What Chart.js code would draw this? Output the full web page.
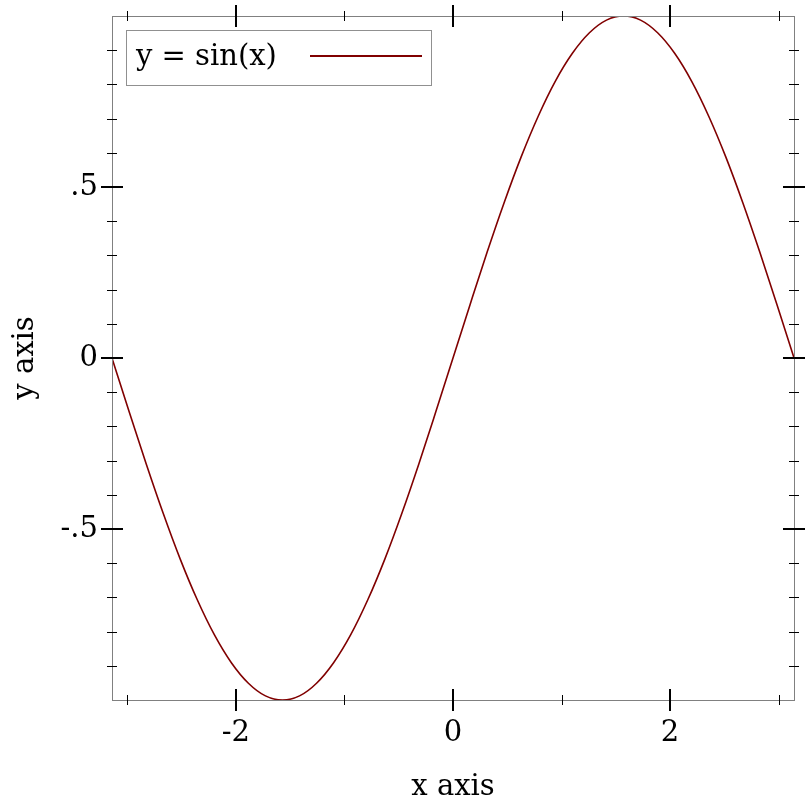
<!DOCTYPE html>
<html>
<head>
<meta charset="utf-8">
<script src="https://cdn.jsdelivr.net/npm/chart.js@4/dist/chart.umd.min.js"></script>
<style>
  html, body { margin: 0; padding: 0; background: #fff; }
  canvas { display: block; }
</style>
</head>
<body>
<canvas id="chart" width="812" height="812"></canvas>
<script>
// values, x in radians from -pi to pi
const xValues = [
  -3.142, -2.985, -2.827, -2.670, -2.513, -2.356, -2.199, -2.042, -1.885, -1.728,
  -1.571, -1.414, -1.257, -1.100, -0.942, -0.785, -0.628, -0.471, -0.314, -0.157,
  0, 0.157, 0.314, 0.471, 0.628, 0.785, 0.942, 1.100, 1.257, 1.414,
  1.571, 1.728, 1.885, 2.042, 2.199, 2.356, 2.513, 2.670, 2.827, 2.985, 3.142
];
const yValues = [
  0, -0.156, -0.309, -0.454, -0.588, -0.707, -0.809, -0.891, -0.951, -0.988,
  -1, -0.988, -0.951, -0.891, -0.809, -0.707, -0.588, -0.454, -0.309, -0.156,
  0, 0.156, 0.309, 0.454, 0.588, 0.707, 0.809, 0.891, 0.951, 0.988,
  1, 0.988, 0.951, 0.891, 0.809, 0.707, 0.588, 0.454, 0.309, 0.156, 0
];

const seriesLabel = 'y = sin(x)';
const xTitle = 'x axis';
const yTitle = 'y axis';

const xMajorTicks = [-2, 0, 2];
const xTickLabels = ['-2', '0', '2'];
const xMinorTicks = [-3, -1, 1, 3];

const yMajorTicks = [-0.5, 0, 0.5];
const yTickLabels = ['-.5', '0', '.5'];
const yMinorTicks = [-0.9, -0.8, -0.7, -0.6, -0.4, -0.3, -0.2, -0.1,
                     0.1, 0.2, 0.3, 0.4, 0.6, 0.7, 0.8, 0.9];

const lineColor = '#800000';
const font = '29px "DejaVu Serif"';

const frame = {
  id: 'frame',
  afterDraw(chart) {
    const ctx = chart.ctx;
    const a = chart.chartArea;
    const xs = chart.scales.x;
    const ys = chart.scales.y;
    ctx.save();

    // border
    ctx.strokeStyle = '#808080';
    ctx.lineWidth = 1;
    ctx.strokeRect(Math.round(a.left) + 0.5, Math.round(a.top) + 0.5,
      Math.round(a.right - a.left), Math.round(a.bottom - a.top));

    // ticks on all four sides
    ctx.strokeStyle = '#000';
    const tick = (x1, y1, x2, y2, w) => {
      ctx.lineWidth = w;
      ctx.beginPath();
      ctx.moveTo(x1, y1);
      ctx.lineTo(x2, y2);
      ctx.stroke();
    };
    const drawX = (vals, len, w) => vals.forEach(v => {
      const px = Math.round(xs.getPixelForValue(v)) + (w === 1 ? 0.5 : 0);
      tick(px, a.bottom - len, px, a.bottom + len, w);
      tick(px, a.top - len, px, a.top + len, w);
    });
    const drawY = (vals, len, w) => vals.forEach(v => {
      const py = Math.round(ys.getPixelForValue(v)) + (w === 1 ? 0.5 : 0);
      tick(a.left - len, py, a.left + len, py, w);
      tick(a.right - len, py, a.right + len, py, w);
    });
    drawX(xMinorTicks, 5, 1);
    drawX(xMajorTicks, 11, 2);
    drawY(yMinorTicks, 5, 1);
    drawY(yMajorTicks, 11, 2);

    // tick labels
    ctx.fillStyle = '#000';
    ctx.font = font;
    ctx.textBaseline = 'middle';
    ctx.textAlign = 'center';
    xMajorTicks.forEach((v, i) => {
      ctx.fillText(xTickLabels[i], xs.getPixelForValue(v), a.bottom + 33);
    });
    ctx.textAlign = 'right';
    yMajorTicks.forEach((v, i) => {
      ctx.fillText(yTickLabels[i], a.left - 14, ys.getPixelForValue(v));
    });

    // axis titles
    ctx.textAlign = 'center';
    ctx.fillText(xTitle, (a.left + a.right) / 2, a.bottom + 87);
    ctx.save();
    ctx.translate(25, (a.top + a.bottom) / 2);
    ctx.rotate(-Math.PI / 2);
    ctx.fillText(yTitle, 0, 0);
    ctx.restore();

    // legend box
    ctx.fillStyle = '#fff';
    ctx.fillRect(126, 30, 306, 56);
    ctx.strokeStyle = '#909090';
    ctx.lineWidth = 1;
    ctx.strokeRect(126.5, 30.5, 305, 55);
    ctx.fillStyle = '#000';
    ctx.textAlign = 'left';
    ctx.fillText(seriesLabel, 136, 57);
    ctx.strokeStyle = lineColor;
    ctx.lineWidth = 2;
    ctx.beginPath();
    ctx.moveTo(310, 56);
    ctx.lineTo(422, 56);
    ctx.stroke();

    ctx.restore();
  }
};

new Chart(document.getElementById('chart'), {
  type: 'line',
  data: {
    datasets: [{
      label: seriesLabel,
      data: xValues.map((x, i) => ({ x: x, y: yValues[i] })),
      borderColor: lineColor,
      borderWidth: 1.6,
      pointRadius: 0,
      cubicInterpolationMode: 'monotone',
      fill: false
    }]
  },
  options: {
    responsive: false,
    animation: false,
    layout: { padding: { left: 112, top: 16, right: 18, bottom: 112 } },
    plugins: { legend: { display: false }, tooltip: { enabled: false } },
    scales: {
      x: { type: 'linear', min: -Math.PI, max: Math.PI, display: false },
      y: { type: 'linear', min: -1, max: 1, display: false }
    }
  },
  plugins: [frame]
});
</script>
</body>
</html>
